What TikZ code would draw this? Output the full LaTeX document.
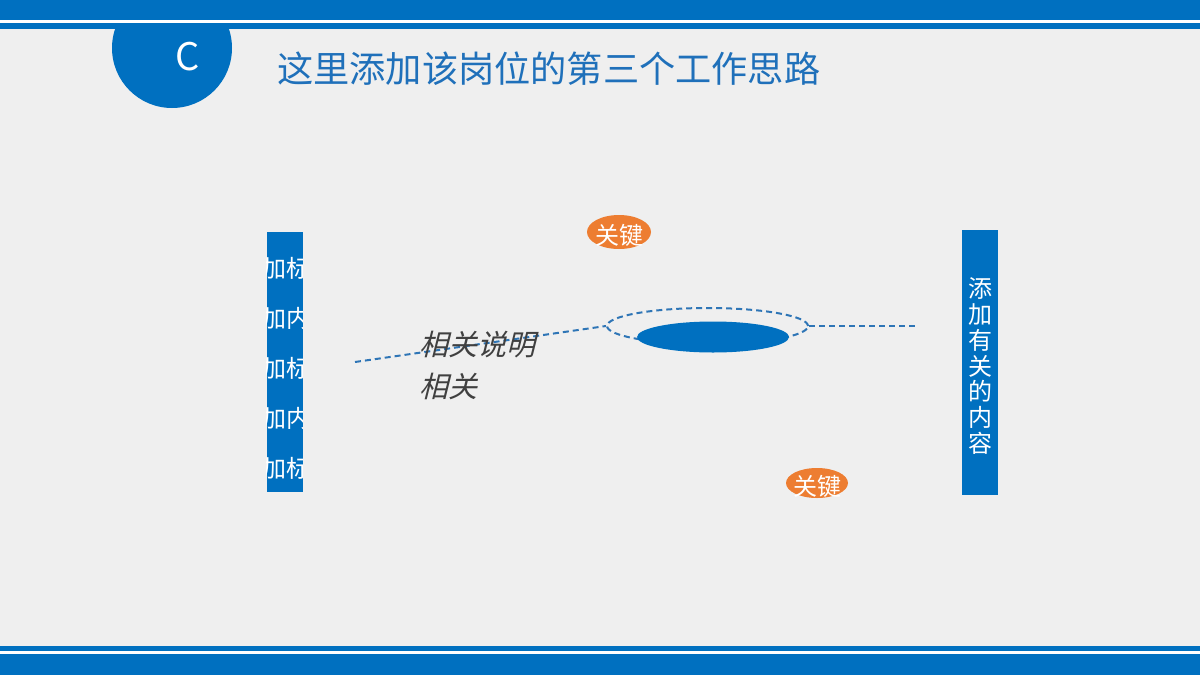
\documentclass[tikz,border=0pt]{standalone}
\usepackage{fontspec}
\setmainfont{Noto Sans CJK SC}
\newfontfamily\slantfont[FakeSlant=0.25]{Noto Sans CJK SC}
\usetikzlibrary{shapes.geometric}
\definecolor{bg}{HTML}{EFEFEF}
\definecolor{mainblue}{HTML}{0070C0}
\definecolor{titleblue}{HTML}{1F70BA}
\definecolor{lineblue}{HTML}{2E75B6}
\definecolor{keyorange}{HTML}{ED7D31}
\definecolor{notegray}{HTML}{404040}
\tikzset{
  keyoval/.style={ellipse, fill=keyorange, minimum width=64pt, minimum height=34pt, inner sep=0pt},
  link/.style={lineblue, line width=2pt, dash pattern=on 6pt off 4pt},
}

\begin{document}
\begin{tikzpicture}[x=1pt, y=-1pt]
\useasboundingbox (0,0) rectangle (1200,675);
\fill[bg] (0,0) rectangle (1200,675);
% header
\begin{scope}
\clip (0,28) rectangle (1200,675);
\fill[mainblue] (172,48) circle (60);
\end{scope}
\fill[mainblue] (0,0) rectangle (1200,20);
\fill[white] (0,20) rectangle (1200,23);
\fill[mainblue] (0,23) rectangle (1200,28.5);
\node[white, font=\fontsize{38}{40}\selectfont] (badge) at (188,57) {C};
\node[titleblue, anchor=west, inner sep=0, font=\fontsize{36.2}{40}\selectfont] (title) at (277,69)
  {这里添加该岗位的第三个工作思路};
% footer
\fill[mainblue] (0,645.5) rectangle (1200,650.5);
\fill[white] (0,650.5) rectangle (1200,654);
\fill[mainblue] (0,654) rectangle (1200,675);

% left bar
\fill[mainblue] (266.5,232) rectangle (302.5,492);
\begin{scope}
\clip (266.5,232) rectangle (302.5,492);
\foreach \y/\t in {268/加标, 318/加内, 368/加标, 418/加内, 468/加标}
  \node[white, anchor=west, inner sep=0, font=\fontsize{24}{26}\selectfont] at (262,\y) {\t};
\end{scope}

% right bar
\fill[mainblue] (962,230) rectangle (998,495);
\node[white, align=center, inner sep=0, font=\fontsize{24}{25.7}\selectfont] (side) at (980,366)
  {添\\加\\有\\关\\的\\内\\容};

% centre
\coordinate (start) at (355,362);
\coordinate (stop) at (915,326);
\node[ellipse, draw=lineblue, link, minimum width=201pt, minimum height=36pt, inner sep=0] (ring) at (707.5,326) {};
\draw[link] (start) -- (ring.west);
\draw[link] (ring.east) -- (stop);
\node[ellipse, fill=mainblue, minimum width=152pt, minimum height=31pt, inner sep=0] (hub) at (713,337) {};

% notes
\node[notegray, anchor=west, align=left, inner sep=0, font=\fontsize{29}{42}\selectfont\slantfont] (note) at (419,365)
  {相关说明\\相关};

% key words
\node[keyoval] (keytop) at (619,232) {};
\node[white, inner sep=0, font=\fontsize{24}{26}\selectfont] at ([yshift=-3pt]keytop.center) {关键};
\node[keyoval, minimum width=62pt, minimum height=30pt] (keybot) at (817,483) {};
\node[white, inner sep=0, font=\fontsize{24}{26}\selectfont] at ([yshift=-3pt]keybot.center) {关键};
\end{tikzpicture}
\end{document}
